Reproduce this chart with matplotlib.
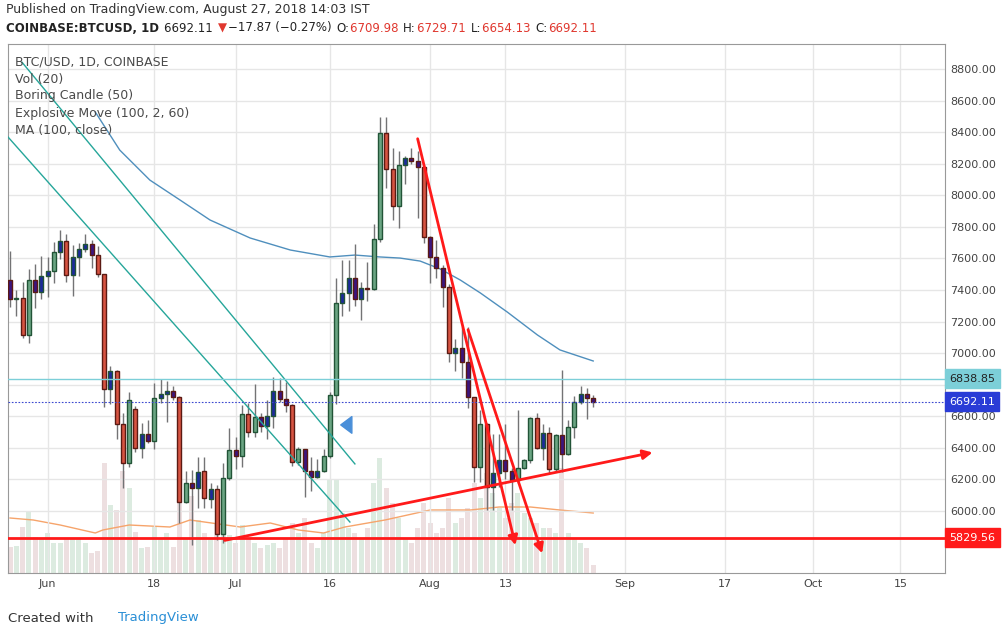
import matplotlib
matplotlib.use("Agg")
import matplotlib.pyplot as plt
from matplotlib.patches import Rectangle

# daily candles, 26 May .. 27 Aug 2018
opens = [7463, 7343, 7347, 7113, 7463, 7385, 7486, 7518, 7638, 7708,
         7493, 7611, 7657, 7689, 7619, 7501, 6771, 6885, 6551, 6302,
         6644, 6397, 6486, 6446, 6714, 6741, 6760, 6720, 6059, 6179,
         6148, 6253, 6074, 6137, 5852, 6207, 6386, 6350, 6612, 6502,
         6593, 6538, 6601, 6760, 6707, 6671, 6308, 6390, 6253, 6217,
         6253, 6350, 6735, 7316, 7383, 7474, 7341, 7411, 7407, 7721,
         8392, 8164, 7934, 8192, 8234, 8219, 8177, 7734, 7607, 7537,
         7417, 7003, 7031, 6942, 6720, 6281, 6549, 6150, 6239, 6323,
         6255, 6196, 6270, 6323, 6587, 6397, 6492, 6264, 6481, 6361,
         6530, 6692, 6739, 6714]
closes = [7341, 7348, 7113, 7463, 7385, 7486, 7518, 7638, 7708, 7493,
          7611, 7657, 7689, 7619, 7501, 6771, 6885, 6551, 6302, 6703,
          6397, 6486, 6446, 6714, 6741, 6760, 6720, 6059, 6179, 6148,
          6249, 6080, 6137, 5852, 6207, 6386, 6350, 6612, 6502, 6593,
          6538, 6601, 6760, 6707, 6671, 6308, 6390, 6253, 6217, 6253,
          6350, 6734, 7316, 7383, 7474, 7341, 7411, 7407, 7721, 8392,
          8164, 7934, 8192, 8234, 8219, 8177, 7734, 7607, 7537, 7417,
          7003, 7031, 6942, 6720, 6281, 6549, 6150, 6239, 6323, 6255,
          6196, 6270, 6323, 6587, 6397, 6492, 6264, 6481, 6361, 6530,
          6692, 6739, 6714, 6692]
highs = [7647, 7400, 7452, 7531, 7566, 7615, 7611, 7702, 7780, 7754,
         7685, 7695, 7754, 7716, 7678, 7501, 6918, 6893, 6619, 6754,
         6665, 6560, 6576, 6809, 6836, 6823, 6794, 6729, 6255, 6260,
         6340, 6340, 6179, 6164, 6302, 6523, 6470, 6671, 6682, 6802,
         6620, 6703, 6846, 6840, 6819, 6680, 6403, 6395, 6340, 6327,
         6390, 6755, 7478, 7590, 7590, 7691, 7453, 7575, 7818, 8498,
         8494, 8301, 8280, 8250, 8301, 8280, 8190, 7740, 7717, 7558,
         7438, 7088, 7164, 7164, 6725, 6640, 6555, 6488, 6488, 6551,
         6270, 6640, 6330, 6593, 6619, 6551, 6534, 6490, 6893, 6576,
         6728, 6792, 6777, 6735]
lows = [7294, 7237, 7094, 7066, 7284, 7345, 7357, 7446, 7594, 7452,
        7364, 7490, 7642, 7541, 7480, 6661, 6676, 6458, 6144, 6277,
        6374, 6338, 6433, 6395, 6682, 6566, 6703, 5926, 6050, 5785,
        6017, 6017, 6017, 5816, 5799, 6196, 6266, 6276, 6470, 6470,
        6500, 6458, 6523, 6690, 6629, 6285, 6290, 6086, 6128, 6207,
        6245, 6333, 6676, 7238, 7269, 7300, 7210, 7333, 7400, 7706,
        8044, 7843, 7795, 8071, 8200, 7858, 7696, 7447, 7474, 7294,
        6946, 6889, 6841, 6651, 6186, 6186, 6006, 6006, 6154, 6200,
        6006, 6180, 6264, 6302, 6390, 6323, 6239, 6255, 6249, 6355,
        6460, 6676, 6581, 6661]
boring = [1, 1, 0, 0, 1, 1, 1, 0, 1, 0, 1, 1, 1, 1, 0, 0, 1, 0, 0, 0,
          0, 1, 1, 0, 1, 1, 1, 0, 0, 1, 1, 0, 1, 0, 0, 0, 1, 0, 0, 0,
          1, 1, 1, 1, 1, 0, 0, 1, 1, 1, 0, 0, 0, 1, 1, 1, 1, 1, 0, 0,
          0, 0, 0, 1, 1, 1, 0, 1, 1, 1, 0, 1, 1, 1, 0, 0, 0, 1, 1, 1,
          1, 0, 0, 0, 0, 1, 0, 0, 1, 0, 0, 1, 1, 1]
volumes = [26, 27, 46, 61, 36, 34, 40, 30, 30, 34, 34, 34, 30, 20, 22,
           110, 68, 63, 102, 85, 41, 25, 26, 46, 34, 40, 26, 106, 34, 77,
           53, 40, 35, 50, 42, 38, 30, 48, 35, 30, 25, 28, 30, 25, 35,
           50, 40, 55, 30, 25, 40, 93, 93, 60, 45, 40, 35, 45, 90, 115,
           85, 70, 55, 35, 30, 45, 70, 50, 40, 45, 75, 50, 55, 65, 90,
           75, 100, 80, 65, 55, 70, 80, 60, 55, 50, 45, 45, 40, 105, 40,
           35, 30, 25, 8]

# Vol(20) average line, sampled
volma_x = [0, 3.7, 8, 13.6, 14.8, 19, 25.5, 28.7, 36.7, 41.5, 46, 50, 53.4,
           59.8, 67, 73.4, 78, 83, 87.7, 93]
volma_y = [55, 53, 48, 40, 43, 48, 46, 53, 46, 50, 43, 40, 46, 53, 63, 63,
           66, 66, 63, 60]

# MA(100, close), sampled
ma_x = [13.6, 17.5, 22.3, 27.1, 31.9, 38.3, 44.7, 51.0, 55.0, 59.0, 62.2,
        65.4, 68.6, 71.8, 75.0, 79.3, 84.1, 87.7, 93.0]
ma_y = [8527, 8286, 8096, 7970, 7843, 7729, 7653, 7609, 7621, 7609, 7602,
        7583, 7533, 7463, 7381, 7260, 7115, 7020, 6950]

tick_pos = [6, 23, 36, 51, 67, 79, 98, 114, 128, 142]
tick_labels = ["Jun", "18", "Jul", "16", "Aug", "13", "Sep", "17", "Oct", "15"]
price_ticks = list(range(6000, 8801, 200))

last_price = 6692.11
resistance = 6838.85
support = 5829.56

fig = plt.figure(figsize=(10.06, 6.36), dpi=100)
ax = fig.add_axes([8 / 1006, 63 / 636, 937 / 1006, 529 / 636])
ax.set_xlim(-0.32, 149.1)
ax.set_ylim(5607, 8958)

# volume behind
vax = ax.twinx()
vax.set_ylim(0, 529)
vax.set_yticks([])
vax.set_zorder(0)
ax.set_zorder(1)
ax.patch.set_visible(False)
for i, v in enumerate(volumes):
    up = closes[i] >= opens[i]
    vax.bar(i, v, width=0.8, color="#dcebe0" if up else "#eddfe0", zorder=1)
vax.plot(volma_x, volma_y, color="#f6a46b", lw=1)

ax.set_yticks(price_ticks)
# the 6800 label sits under the 6838.85 marker box
ax.set_yticklabels(["" if p == 6800 else "%.2f" % p for p in price_ticks],
                   fontsize=8, color="#444")
ax.yaxis.tick_right()
ax.set_xticks(tick_pos)
ax.set_xticklabels(tick_labels, fontsize=8, color="#444")
ax.tick_params(length=0, pad=4)
ax.grid(True, color="#e6e6e6", lw=1)
ax.set_axisbelow(True)
for s in ax.spines.values():
    s.set_color("#999")
for s in vax.spines.values():
    s.set_visible(False)

ax.plot(ma_x, ma_y, color="#4f8fbd", lw=1, zorder=3)

for i in range(len(opens)):
    o, c, h, l = opens[i], closes[i], highs[i], lows[i]
    up = c >= o
    if boring[i]:
        face = "#1c2a9c" if up else "#3b1580"
    else:
        face = "#6ba583" if up else "#d75442"
    edge = "#225437" if up else "#5b1a13"
    ax.vlines(i, l, h, color="#737375", lw=1, zorder=4)
    bot = min(o, c)
    ht = max(abs(c - o), 6)
    ax.add_patch(Rectangle((i - 0.32, bot), 0.64, ht, facecolor=face,
                           edgecolor=edge, lw=1, zorder=5))

# trend lines
ax.plot([-0.32, 54.2], [8369, 5930], color="#26a69a", lw=1, zorder=6)
ax.plot([1.9, 55.0], [8843, 6298], color="#26a69a", lw=1, zorder=6)
arrow = dict(arrowstyle="-|>", color="#ff1a1a", lw=2, mutation_scale=14)
ax.annotate("", xy=(80.7, 5766), xytext=(64.9, 8375), arrowprops=arrow, zorder=7)
ax.annotate("", xy=(85.0, 5715), xytext=(72.9, 7165), arrowprops=arrow, zorder=7)
ax.annotate("", xy=(102.9, 6374), xytext=(33.8, 5810), arrowprops=arrow, zorder=7)
ax.annotate("", xy=(52.3, 6545), xytext=(54.6, 6545),
            arrowprops=dict(arrowstyle="simple,head_width=1.2,head_length=0.8,tail_width=0.45",
                            color="#4a8fd9"), zorder=7)

ax.axhline(support, color="#ff1a1a", lw=2, zorder=6)
ax.axhline(resistance, color="#7ccfd8", lw=1, zorder=6)
ax.axhline(last_price, color="#3b48d0", lw=0.8, ls=(0, (1.5, 1.5)), zorder=6)
for val, col, tcol in [(support, "#ff1a1a", "white"),
                       (resistance, "#7ccfd8", "#222"),
                       (last_price, "#2a3cd6", "white")]:
    ax.annotate("%.2f" % val, xy=(1.0, val), xycoords=("axes fraction", "data"),
                xytext=(3, 0), textcoords="offset points", va="center",
                fontsize=8, color=tcol, annotation_clip=False, zorder=10,
                bbox=dict(boxstyle="square,pad=0.4", fc=col, ec=col))

legend = ["BTC/USD, 1D, COINBASE", "Vol (20)", "Boring Candle (50)",
          "Explosive Move (100, 2, 60)", "MA (100, close)"]
for k, t in enumerate(legend):
    fig.text(15 / 1006, 1 - (62 + 17 * k) / 636, t, fontsize=9, color="#4a4a4a", va="center")

fig.text(6 / 1006, 1 - 9 / 636, "Published on TradingView.com, August 27, 2018 14:03 IST",
         fontsize=9, color="#333", va="center")

# second header line: pieces placed one after another
renderer = fig.canvas.get_renderer()
pieces = [("COINBASE:BTCUSD, 1D ", "#222", "bold"), ("6692.11 ", "#222", "normal"),
          ("▼", "#e0382f", "normal"), ("−17.87 (−0.27%) ", "#222", "normal"),
          ("O:", "#222", "normal"), ("6709.98 ", "#e0382f", "normal"),
          ("H:", "#222", "normal"), ("6729.71 ", "#e0382f", "normal"),
          ("L:", "#222", "normal"), ("6654.13 ", "#e0382f", "normal"),
          ("C:", "#222", "normal"), ("6692.11", "#e0382f", "normal")]
xpos = 6
for txt, col, w in pieces:
    t = fig.text(xpos / 1006, 1 - 28 / 636, txt, fontsize=8.5, color=col,
                 weight=w, va="center")
    xpos += t.get_window_extent(renderer).width + 1

fig.text(8 / 1006, 1 - 618 / 636, "Created with", fontsize=9.5, color="#333", va="center")
fig.text(118 / 1006, 1 - 618 / 636, "TradingView", fontsize=9.5, color="#2a8fd6", va="center")

fig.savefig("out.png", dpi=100)
